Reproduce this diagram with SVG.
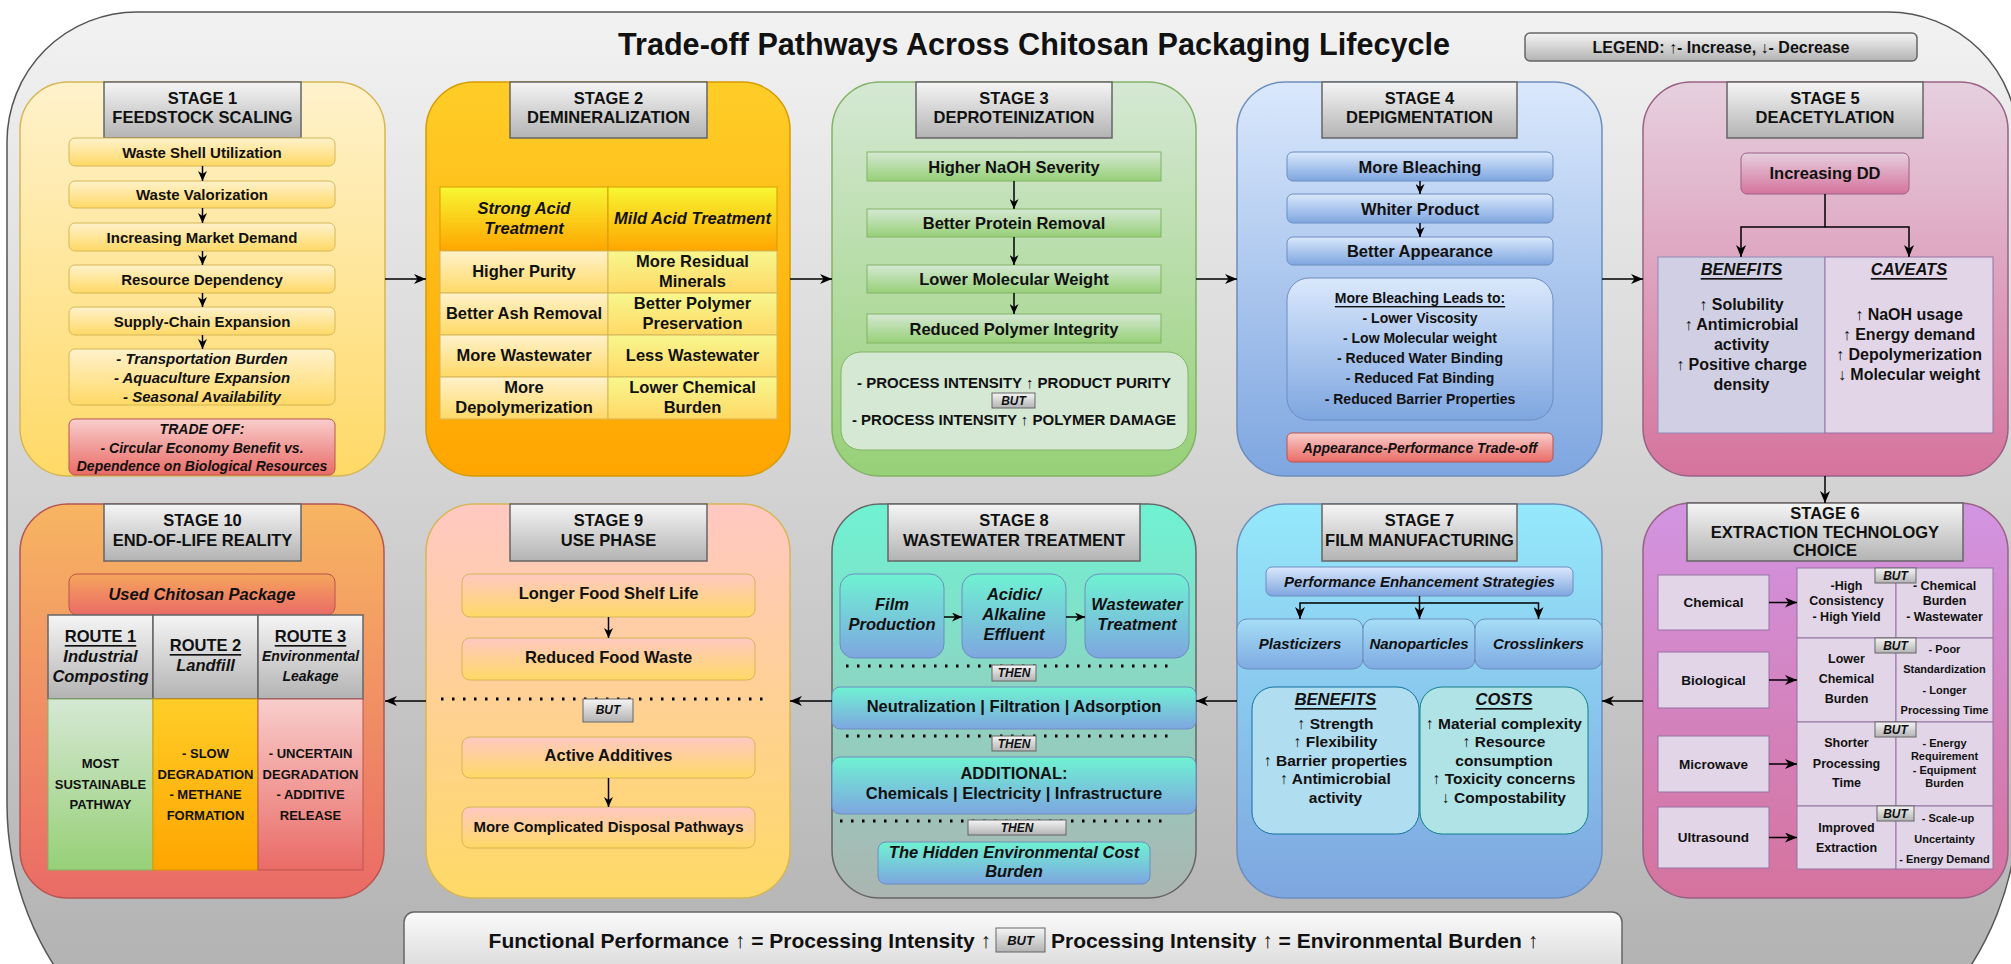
<svg xmlns="http://www.w3.org/2000/svg" width="2011" height="964" viewBox="0 0 2011 964">
<defs>
<linearGradient id="gOuter" x1="0" y1="12" x2="0" y2="964" gradientUnits="userSpaceOnUse"><stop offset="0" stop-color="#f2f2f2"/><stop offset="1" stop-color="#b3b3b3"/></linearGradient>
<linearGradient id="gY" x1="0" y1="0" x2="0" y2="1"><stop offset="0" stop-color="#fff2cc"/><stop offset="1" stop-color="#ffd966"/></linearGradient>
<linearGradient id="gO" x1="0" y1="0" x2="0" y2="1"><stop offset="0" stop-color="#ffcd28"/><stop offset="1" stop-color="#ffa500"/></linearGradient>
<linearGradient id="gG" x1="0" y1="0" x2="0" y2="1"><stop offset="0" stop-color="#d5e8d4"/><stop offset="1" stop-color="#97d077"/></linearGradient>
<linearGradient id="gB" x1="0" y1="0" x2="0" y2="1"><stop offset="0" stop-color="#dae8fc"/><stop offset="1" stop-color="#7ea6e0"/></linearGradient>
<linearGradient id="gB7" x1="0" y1="0" x2="0" y2="1"><stop offset="0" stop-color="#a6def6"/><stop offset="1" stop-color="#7eaae2"/></linearGradient>
<linearGradient id="gP5" x1="0" y1="0" x2="0" y2="1"><stop offset="0" stop-color="#e6d0de"/><stop offset="1" stop-color="#d5739d"/></linearGradient>
<linearGradient id="gP6" x1="0" y1="0" x2="0" y2="1"><stop offset="0" stop-color="#d294e2"/><stop offset="1" stop-color="#d5739d"/></linearGradient>
<linearGradient id="gC7" x1="0" y1="0" x2="0" y2="1"><stop offset="0" stop-color="#95e9fb"/><stop offset="1" stop-color="#7ea6e0"/></linearGradient>
<linearGradient id="gT8" x1="0" y1="0" x2="0" y2="1"><stop offset="0" stop-color="#6ff2d2"/><stop offset="1" stop-color="#abb5b1"/></linearGradient>
<linearGradient id="gTB" x1="0" y1="0" x2="0" y2="1"><stop offset="0" stop-color="#6ff2d2"/><stop offset="1" stop-color="#7ea6e0"/></linearGradient>
<linearGradient id="gPk" x1="0" y1="0" x2="0" y2="1"><stop offset="0" stop-color="#ffc8c2"/><stop offset="1" stop-color="#ffd966"/></linearGradient>
<linearGradient id="gR10" x1="0" y1="0" x2="0" y2="1"><stop offset="0" stop-color="#f7b562"/><stop offset="1" stop-color="#ea6b66"/></linearGradient>
<linearGradient id="gUsed" x1="0" y1="0" x2="0" y2="1"><stop offset="0" stop-color="#f5a55c"/><stop offset="1" stop-color="#ea6b66"/></linearGradient>
<linearGradient id="gRed" x1="0" y1="0" x2="0" y2="1"><stop offset="0" stop-color="#f8cecc"/><stop offset="1" stop-color="#ea6b66"/></linearGradient>
<linearGradient id="gGray" x1="0" y1="0" x2="0" y2="1"><stop offset="0" stop-color="#f5f5f5"/><stop offset="1" stop-color="#b3b3b3"/></linearGradient>
<linearGradient id="gHdrY" x1="0" y1="0" x2="0" y2="1"><stop offset="0" stop-color="#f7f733"/><stop offset="1" stop-color="#ffa500"/></linearGradient>
<linearGradient id="gLime" x1="0" y1="0" x2="0" y2="1"><stop offset="0" stop-color="#f7f78e"/><stop offset="1" stop-color="#ffd966"/></linearGradient>
<linearGradient id="gBar" x1="0" y1="0" x2="0" y2="1"><stop offset="0" stop-color="#fafafa"/><stop offset="1" stop-color="#cfcfcf"/></linearGradient>
<marker id="ah" viewBox="0 0 12 10" refX="12" refY="5" markerWidth="12" markerHeight="10" markerUnits="userSpaceOnUse" orient="auto"><path d="M0,0 L12,5 L0,10 L3.5,5 Z" fill="#000"/></marker>
<marker id="ahs" viewBox="0 0 10 9" refX="10" refY="4.5" markerWidth="10" markerHeight="9" markerUnits="userSpaceOnUse" orient="auto"><path d="M0,0 L10,4.5 L0,9 L3,4.5 Z" fill="#000"/></marker>
</defs>
<style>
.t{font-family:"Liberation Sans",Arial,Helvetica,sans-serif;font-weight:bold;text-anchor:middle;dominant-baseline:central;fill:#111}
.i{font-style:italic}
.u{text-decoration:underline}
.f11{font-size:11px}.f12{font-size:12px}.f125{font-size:12.5px}.f13{font-size:13px}.f135{font-size:13.5px}.f14{font-size:14px}.f15{font-size:15px}.f155{font-size:15.5px}.f16{font-size:16px}.f165{font-size:16.5px}.f21{font-size:21px}
.hdr{fill:url(#gGray);stroke:#666;stroke-width:1.5}
.tag{fill:url(#gGray);stroke:#666;stroke-width:1}
.dot{stroke:#000;stroke-width:3;stroke-dasharray:2.5 8.5;fill:none}
.cn{stroke:#000;stroke-width:1.5;fill:none;marker-end:url(#ah)}
.cs{stroke:#000;stroke-width:1.5;fill:none;marker-end:url(#ahs)}
</style>

<g id="background">
<path d="M7,142 A130,130 0 0 1 137,12 L1888,12 A130,130 0 0 1 2018,142 L2018,804 A300,300 0 0 1 1718,1104 L307,1104 A300,300 0 0 1 7,804 Z" fill="url(#gOuter)" stroke="#555" stroke-width="1.5"/>
</g>

<g id="title">
<text class="t" x="1034" y="55" style="font-size:30.6px;dominant-baseline:auto">Trade-off Pathways Across Chitosan Packaging Lifecycle</text>
</g>
<g id="legend">
<rect x="1525" y="33" width="392" height="28" rx="5" class="hdr" stroke-width="1"/>
<text class="t f16" x="1721" y="47">LEGEND: ↑- Increase, ↓- Decrease</text>
</g>

<g id="stage1">
<rect x="20" y="82" width="365" height="394" rx="48" fill="url(#gY)" stroke="#d6b656" stroke-width="1.5"/>
<rect x="104" y="82" width="197" height="56" class="hdr"/>
<text class="t f165" x="202.5" y="98">STAGE 1</text>
<text class="t f165" x="202.5" y="117">FEEDSTOCK SCALING</text>
<g fill="url(#gY)" stroke="#d6b656" stroke-width="1">
<rect x="69" y="138" width="266" height="28" rx="6"/>
<rect x="69" y="181" width="266" height="27" rx="6"/>
<rect x="69" y="223" width="266" height="28" rx="6"/>
<rect x="69" y="265" width="266" height="28" rx="6"/>
<rect x="69" y="307" width="266" height="28" rx="6"/>
<rect x="69" y="349" width="266" height="56" rx="6"/>
</g>
<text class="t f15" x="202" y="152">Waste Shell Utilization</text>
<text class="t f15" x="202" y="194.5">Waste Valorization</text>
<text class="t f15" x="202" y="237">Increasing Market Demand</text>
<text class="t f15" x="202" y="279">Resource Dependency</text>
<text class="t f15" x="202" y="321">Supply-Chain Expansion</text>
<text class="t f15 i" x="202" y="358">- Transportation Burden</text>
<text class="t f15 i" x="202" y="377">- Aquaculture Expansion</text>
<text class="t f15 i" x="202" y="396">- Seasonal Availability</text>
<rect x="69" y="419" width="266" height="56" rx="6" fill="url(#gRed)" stroke="#b85450" stroke-width="1"/>
<text class="t f14 i" x="202" y="429">TRADE OFF:</text>
<text class="t f14 i" x="202" y="447.5">- Circular Economy Benefit vs.</text>
<text class="t f14 i" x="202" y="466">Dependence on Biological Resources</text>
</g>

<g id="stage2">
<rect x="426" y="82" width="364" height="394" rx="48" fill="url(#gO)" stroke="#d79b00" stroke-width="1.5"/>
<rect x="510" y="82" width="197" height="56" class="hdr"/>
<text class="t f165" x="608.5" y="98">STAGE 2</text>
<text class="t f165" x="608.5" y="117">DEMINERALIZATION</text>
<g stroke="#d79b00" stroke-width="1" fill="url(#gHdrY)">
<rect x="440" y="187" width="168" height="64"/>
<rect x="608" y="187" width="169" height="64"/>
</g>
<g stroke="#d6b656" stroke-width="1" fill="url(#gY)">
<rect x="440" y="251" width="168" height="42"/>
<rect x="440" y="293" width="168" height="42"/>
<rect x="440" y="335" width="168" height="42"/>
<rect x="440" y="377" width="168" height="42"/>
</g>
<g stroke="#d6b656" stroke-width="1" fill="url(#gLime)">
<rect x="608" y="251" width="169" height="42"/>
<rect x="608" y="293" width="169" height="42"/>
<rect x="608" y="335" width="169" height="42"/>
<rect x="608" y="377" width="169" height="42"/>
</g>
<text class="t f165 i" x="524" y="208">Strong Acid</text>
<text class="t f165 i" x="524" y="228">Treatment</text>
<text class="t f165 i" x="692.5" y="218">Mild Acid Treatment</text>
<text class="t f165" x="524" y="271">Higher Purity</text>
<text class="t f165" x="692.5" y="261">More Residual</text>
<text class="t f165" x="692.5" y="281">Minerals</text>
<text class="t f165" x="524" y="313">Better Ash Removal</text>
<text class="t f165" x="692.5" y="303">Better Polymer</text>
<text class="t f165" x="692.5" y="323">Preservation</text>
<text class="t f165" x="524" y="355">More Wastewater</text>
<text class="t f165" x="692.5" y="355">Less Wastewater</text>
<text class="t f165" x="524" y="387">More</text>
<text class="t f165" x="524" y="407">Depolymerization</text>
<text class="t f165" x="692.5" y="387">Lower Chemical</text>
<text class="t f165" x="692.5" y="407">Burden</text>
</g>

<g id="stage3">
<rect x="832" y="82" width="364" height="394" rx="48" fill="url(#gG)" stroke="#82b366" stroke-width="1.5"/>
<rect x="916" y="82" width="196" height="56" class="hdr"/>
<text class="t f165" x="1014" y="98">STAGE 3</text>
<text class="t f165" x="1014" y="117">DEPROTEINIZATION</text>
<g fill="url(#gG)" stroke="#82b366" stroke-width="1">
<rect x="867" y="152" width="294" height="29"/>
<rect x="867" y="209" width="294" height="28"/>
<rect x="867" y="265" width="294" height="28"/>
<rect x="867" y="314" width="294" height="29"/>
</g>
<text class="t f165" x="1014" y="166.5">Higher NaOH Severity</text>
<text class="t f165" x="1014" y="223">Better Protein Removal</text>
<text class="t f165" x="1014" y="279">Lower Molecular Weight</text>
<text class="t f165" x="1014" y="328.5">Reduced Polymer Integrity</text>
<rect x="841" y="352" width="347" height="98" rx="20" fill="#d5e8d4" stroke="#82b366" stroke-width="1"/>
<text class="t f15" x="1014" y="382">- PROCESS INTENSITY ↑ PRODUCT PURITY</text>
<rect x="992" y="393" width="43" height="15" class="tag"/>
<text class="t f12 i" x="1013.5" y="400.5">BUT</text>
<text class="t f15" x="1014" y="419">- PROCESS INTENSITY ↑ POLYMER DAMAGE</text>
</g>

<g id="stage4">
<rect x="1237" y="82" width="365" height="394" rx="48" fill="url(#gB)" stroke="#6c8ebf" stroke-width="1.5"/>
<rect x="1322" y="82" width="195" height="56" class="hdr"/>
<text class="t f165" x="1419.5" y="98">STAGE 4</text>
<text class="t f165" x="1419.5" y="117">DEPIGMENTATION</text>
<g fill="url(#gB)" stroke="#6c8ebf" stroke-width="1">
<rect x="1287" y="152" width="266" height="29" rx="6"/>
<rect x="1287" y="194" width="266" height="29" rx="6"/>
<rect x="1287" y="237" width="266" height="28" rx="6"/>
<rect x="1287" y="278" width="266" height="142" rx="22"/>
</g>
<text class="t f165" x="1420" y="166.5">More Bleaching</text>
<text class="t f165" x="1420" y="208.5">Whiter Product</text>
<text class="t f165" x="1420" y="251">Better Appearance</text>
<text class="t f14 u" x="1420" y="298">More Bleaching Leads to:</text>
<text class="t f14" x="1420" y="318">- Lower Viscosity</text>
<text class="t f14" x="1420" y="338">- Low Molecular weight</text>
<text class="t f14" x="1420" y="358">- Reduced Water Binding</text>
<text class="t f14" x="1420" y="378">- Reduced Fat Binding</text>
<text class="t f14" x="1420" y="399">- Reduced Barrier Properties</text>
<rect x="1287" y="433" width="266" height="29" rx="5" fill="url(#gRed)" stroke="#b85450" stroke-width="1"/>
<text class="t f14 i" x="1420" y="447.5">Appearance-Performance Trade-off</text>
</g>

<g id="stage5">
<rect x="1643" y="82" width="365" height="394" rx="48" fill="url(#gP5)" stroke="#996185" stroke-width="1.5"/>
<rect x="1727" y="82" width="196" height="56" class="hdr"/>
<text class="t f165" x="1825" y="98">STAGE 5</text>
<text class="t f165" x="1825" y="117">DEACETYLATION</text>
<rect x="1741" y="153" width="168" height="41" rx="6" fill="url(#gP5)" stroke="#996185" stroke-width="1"/>
<text class="t f165" x="1825" y="173">Increasing DD</text>
<rect x="1658" y="257" width="167" height="176" fill="#d0cfe3" stroke="#8d8bb5" stroke-width="1"/>
<rect x="1825" y="257" width="168" height="176" fill="#e1d5e7" stroke="#9673a6" stroke-width="1"/>
<text class="t f165 i u" x="1741.5" y="269">BENEFITS</text>
<text class="t f16" x="1741.5" y="304">↑ Solubility</text>
<text class="t f16" x="1741.5" y="324">↑ Antimicrobial</text>
<text class="t f16" x="1741.5" y="344">activity</text>
<text class="t f16" x="1741.5" y="364">↑ Positive charge</text>
<text class="t f16" x="1741.5" y="384">density</text>
<text class="t f165 i u" x="1909" y="269">CAVEATS</text>
<text class="t f16" x="1909" y="314">↑ NaOH usage</text>
<text class="t f16" x="1909" y="334">↑ Energy demand</text>
<text class="t f16" x="1909" y="354">↑ Depolymerization</text>
<text class="t f16" x="1909" y="374">↓ Molecular weight</text>
</g>

<g id="stage6">
<rect x="1643" y="503" width="365" height="395" rx="48" fill="url(#gP6)" stroke="#996185" stroke-width="1.5"/>
<rect x="1687" y="503" width="276" height="58" class="hdr"/>
<text class="t f165" x="1825" y="513">STAGE 6</text>
<text class="t f165" x="1825" y="531.5">EXTRACTION TECHNOLOGY</text>
<text class="t f165" x="1825" y="550">CHOICE</text>
<g fill="#e1d5e7" stroke="#9673a6" stroke-width="1">
<rect x="1658" y="575" width="111" height="55"/>
<rect x="1658" y="652" width="111" height="56"/>
<rect x="1658" y="736" width="111" height="56"/>
<rect x="1658" y="807" width="111" height="61"/>
<rect x="1797" y="568" width="99" height="70"/>
<rect x="1896" y="568" width="97" height="70"/>
<rect x="1797" y="638" width="99" height="84"/>
<rect x="1896" y="638" width="97" height="84"/>
<rect x="1797" y="722" width="99" height="84"/>
<rect x="1896" y="722" width="97" height="84"/>
<rect x="1797" y="806" width="99" height="63"/>
<rect x="1896" y="806" width="97" height="63"/>
</g>
<text class="t f135" x="1713.5" y="602.5">Chemical</text>
<text class="t f135" x="1713.5" y="680">Biological</text>
<text class="t f135" x="1713.5" y="764">Microwave</text>
<text class="t f135" x="1713.5" y="837.5">Ultrasound</text>
<rect x="1875" y="568" width="41" height="15" class="tag"/>
<text class="t f12 i" x="1895.5" y="575.5">BUT</text>
<rect x="1875" y="638" width="41" height="15" class="tag"/>
<text class="t f12 i" x="1895.5" y="645.5">BUT</text>
<rect x="1875" y="722" width="41" height="15" class="tag"/>
<text class="t f12 i" x="1895.5" y="729.5">BUT</text>
<rect x="1877" y="806" width="37" height="15" class="tag"/>
<text class="t f12 i" x="1895.5" y="813.5">BUT</text>
<text class="t f125" x="1846.5" y="586">-High</text>
<text class="t f125" x="1846.5" y="601">Consistency</text>
<text class="t f125" x="1846.5" y="617">- High Yield</text>
<text class="t f125" x="1944.5" y="586">- Chemical</text>
<text class="t f125" x="1944.5" y="601">Burden</text>
<text class="t f125" x="1944.5" y="617">- Wastewater</text>
<text class="t f125" x="1846.5" y="659">Lower</text>
<text class="t f125" x="1846.5" y="679">Chemical</text>
<text class="t f125" x="1846.5" y="699">Burden</text>
<text class="t f11" x="1944.5" y="649">- Poor</text>
<text class="t f11" x="1944.5" y="669">Standardization</text>
<text class="t f11" x="1944.5" y="690">- Longer</text>
<text class="t f11" x="1944.5" y="710">Processing Time</text>
<text class="t f125" x="1846.5" y="743">Shorter</text>
<text class="t f125" x="1846.5" y="764">Processing</text>
<text class="t f125" x="1846.5" y="783">Time</text>
<text class="t f11" x="1944.5" y="743">- Energy</text>
<text class="t f11" x="1944.5" y="756">Requirement</text>
<text class="t f11" x="1944.5" y="769.5">- Equipment</text>
<text class="t f11" x="1944.5" y="783">Burden</text>
<text class="t f125" x="1846.5" y="828">Improved</text>
<text class="t f125" x="1846.5" y="848">Extraction</text>
<text class="t f11" x="1948" y="818">- Scale-up</text>
<text class="t f11" x="1944.5" y="839">Uncertainty</text>
<text class="t f11" x="1944.5" y="859">- Energy Demand</text>
</g>

<g id="stage7">
<rect x="1237" y="504" width="365" height="394" rx="48" fill="url(#gC7)" stroke="#6c8ebf" stroke-width="1.5"/>
<rect x="1322" y="504" width="195" height="57" class="hdr"/>
<text class="t f165" x="1419.5" y="520">STAGE 7</text>
<text class="t f165" x="1419.5" y="540">FILM MANUFACTURING</text>
<rect x="1266" y="567" width="307" height="29" rx="6" fill="url(#gB)" stroke="#6c8ebf" stroke-width="1"/>
<text class="t f15 i" x="1419.5" y="581.5">Performance Enhancement Strategies</text>
<g fill="url(#gB7)" stroke="#6c8ebf" stroke-width="1">
<rect x="1237" y="619" width="126" height="50" rx="10"/>
<rect x="1363" y="619" width="112" height="50" rx="10"/>
<rect x="1475" y="619" width="127" height="50" rx="10"/>
</g>
<text class="t f15 i" x="1300" y="643">Plasticizers</text>
<text class="t f15 i" x="1419" y="643">Nanoparticles</text>
<text class="t f15 i" x="1538.5" y="643">Crosslinkers</text>
<rect x="1252" y="687" width="167" height="147" rx="22" fill="#b1ddf0" stroke="#10739e" stroke-width="1"/>
<rect x="1420" y="687" width="168" height="147" rx="22" fill="#b0e3e6" stroke="#0e8088" stroke-width="1"/>
<text class="t f165 i u" x="1335.5" y="699">BENEFITS</text>
<text class="t f155" x="1335.5" y="723">↑ Strength</text>
<text class="t f155" x="1335.5" y="741.5">↑ Flexibility</text>
<text class="t f155" x="1335.5" y="760">↑ Barrier properties</text>
<text class="t f155" x="1335.5" y="778.5">↑ Antimicrobial</text>
<text class="t f155" x="1335.5" y="797">activity</text>
<text class="t f165 i u" x="1504" y="699">COSTS</text>
<text class="t f155" x="1504" y="723">↑ Material complexity</text>
<text class="t f155" x="1504" y="741.5">↑ Resource</text>
<text class="t f155" x="1504" y="760">consumption</text>
<text class="t f155" x="1504" y="778.5">↑ Toxicity concerns</text>
<text class="t f155" x="1504" y="797">↓ Compostability</text>
</g>

<g id="stage8">
<rect x="832" y="504" width="364" height="394" rx="48" fill="url(#gT8)" stroke="#666" stroke-width="1.5"/>
<rect x="888" y="504" width="252" height="57" class="hdr"/>
<text class="t f165" x="1014" y="520">STAGE 8</text>
<text class="t f165" x="1014" y="540">WASTEWATER TREATMENT</text>
<g fill="url(#gTB)" stroke="#6c8ebf" stroke-width="1">
<rect x="840" y="574" width="104" height="84" rx="14"/>
<rect x="962" y="574" width="104" height="84" rx="14"/>
<rect x="1085" y="574" width="104" height="84" rx="14"/>
</g>
<text class="t f165 i" x="892" y="604">Film</text>
<text class="t f165 i" x="892" y="624">Production</text>
<text class="t f165 i" x="1014" y="594">Acidic/</text>
<text class="t f165 i" x="1014" y="614">Alkaline</text>
<text class="t f165 i" x="1014" y="634">Effluent</text>
<text class="t f165 i" x="1137" y="604">Wastewater</text>
<text class="t f165 i" x="1137" y="624">Treatment</text>
<line x1="846" y1="666" x2="1176" y2="666" class="dot"/>
<rect x="992" y="665" width="44" height="16" class="tag"/>
<text class="t f12 i" x="1014" y="673">THEN</text>
<rect x="832" y="687" width="364" height="42" rx="8" fill="url(#gTB)" stroke="#6c8ebf" stroke-width="1"/>
<text class="t f165" x="1014" y="706">Neutralization | Filtration | Adsorption</text>
<line x1="846" y1="736" x2="1176" y2="736" class="dot"/>
<rect x="992" y="736" width="44" height="15" class="tag"/>
<text class="t f12 i" x="1014" y="743.5">THEN</text>
<rect x="832" y="757" width="364" height="57" rx="8" fill="url(#gTB)" stroke="#6c8ebf" stroke-width="1"/>
<text class="t f165" x="1014" y="773">ADDITIONAL:</text>
<text class="t f165" x="1014" y="793">Chemicals | Electricity | Infrastructure</text>
<line x1="840" y1="821" x2="1170" y2="821" class="dot"/>
<rect x="968" y="820" width="98" height="15" class="tag"/>
<text class="t f12 i" x="1017" y="827.5">THEN</text>
<rect x="878" y="842" width="272" height="42" rx="8" fill="url(#gTB)" stroke="#6c8ebf" stroke-width="1"/>
<text class="t f165 i" x="1014" y="851.5">The Hidden Environmental Cost</text>
<text class="t f165 i" x="1014" y="870.5">Burden</text>
</g>

<g id="stage9">
<rect x="426" y="504" width="364" height="394" rx="48" fill="url(#gPk)" stroke="#d6b656" stroke-width="1.5"/>
<rect x="510" y="504" width="197" height="57" class="hdr"/>
<text class="t f165" x="608.5" y="520">STAGE 9</text>
<text class="t f165" x="608.5" y="540">USE PHASE</text>
<g fill="url(#gPk)" stroke="#d6b656" stroke-width="1">
<rect x="462" y="574" width="293" height="43" rx="8"/>
<rect x="462" y="638" width="293" height="42" rx="8"/>
<rect x="462" y="737" width="293" height="41" rx="8"/>
<rect x="462" y="807" width="293" height="41" rx="8"/>
</g>
<text class="t f165" x="608.5" y="593">Longer Food Shelf Life</text>
<text class="t f165" x="608.5" y="657">Reduced Food Waste</text>
<line x1="441" y1="699" x2="770" y2="699" class="dot"/>
<rect x="583" y="699" width="50" height="23" class="tag"/>
<text class="t f12 i" x="608" y="709.5">BUT</text>
<text class="t f165" x="608.5" y="755">Active Additives</text>
<text class="t f15" x="608.5" y="826">More Complicated Disposal Pathways</text>
</g>

<g id="stage10">
<rect x="20" y="504" width="364" height="394" rx="48" fill="url(#gR10)" stroke="#b85450" stroke-width="1.5"/>
<rect x="104" y="504" width="197" height="57" class="hdr"/>
<text class="t f165" x="202.5" y="520">STAGE 10</text>
<text class="t f165" x="202.5" y="540">END-OF-LIFE REALITY</text>
<rect x="69" y="574" width="266" height="41" rx="8" fill="url(#gUsed)" stroke="#b85450" stroke-width="1"/>
<text class="t f165 i" x="202" y="593.5">Used Chitosan Package</text>
<g class="hdr" stroke-width="1">
<rect x="48" y="615" width="105" height="84"/>
<rect x="153" y="615" width="105" height="84"/>
<rect x="258" y="615" width="105" height="84"/>
</g>
<rect x="48" y="699" width="105" height="171" fill="url(#gG)" stroke="#82b366" stroke-width="1"/>
<rect x="153" y="699" width="105" height="171" fill="url(#gO)" stroke="#d79b00" stroke-width="1"/>
<rect x="258" y="699" width="105" height="171" fill="url(#gRed)" stroke="#b85450" stroke-width="1"/>
<text class="t f165 u" x="100.5" y="636">ROUTE 1</text>
<text class="t f165 i" x="100.5" y="656">Industrial</text>
<text class="t f165 i" x="100.5" y="676">Composting</text>
<text class="t f165 u" x="205.5" y="645">ROUTE 2</text>
<text class="t f165 i" x="205.5" y="665">Landfill</text>
<text class="t f165 u" x="310.5" y="636">ROUTE 3</text>
<text class="t f14 i" x="310.5" y="656">Environmental</text>
<text class="t f14 i" x="310.5" y="676">Leakage</text>
<text class="t f13" x="100.5" y="763">MOST</text>
<text class="t f13" x="100.5" y="784">SUSTAINABLE</text>
<text class="t f13" x="100.5" y="804">PATHWAY</text>
<text class="t f13" x="205.5" y="753">- SLOW</text>
<text class="t f13" x="205.5" y="774">DEGRADATION</text>
<text class="t f13" x="205.5" y="794">- METHANE</text>
<text class="t f13" x="205.5" y="815">FORMATION</text>
<text class="t f13" x="310.5" y="753">- UNCERTAIN</text>
<text class="t f13" x="310.5" y="774">DEGRADATION</text>
<text class="t f13" x="310.5" y="794">- ADDITIVE</text>
<text class="t f13" x="310.5" y="815">RELEASE</text>
</g>

<g id="summary">
<rect x="404" y="912" width="1218" height="80" rx="10" fill="url(#gBar)" stroke="#666" stroke-width="1.5"/>
<text class="t f21" x="991" y="940" style="text-anchor:end">Functional Performance ↑ = Processing Intensity ↑</text>
<rect x="996" y="928" width="49" height="24" class="tag"/>
<text class="t f13 i" x="1020.5" y="940">BUT</text>
<text class="t f21" x="1051" y="940" style="text-anchor:start">Processing Intensity ↑ = Environmental Burden ↑</text>
</g>

<g id="connectors">
<line x1="385" y1="279" x2="426" y2="279" class="cn"/>
<line x1="790" y1="279" x2="832" y2="279" class="cn"/>
<line x1="1196" y1="279" x2="1237" y2="279" class="cn"/>
<line x1="1602" y1="279" x2="1643" y2="279" class="cn"/>
<line x1="1825" y1="476" x2="1825" y2="503" class="cn"/>
<line x1="1643" y1="701" x2="1602" y2="701" class="cn"/>
<line x1="1237" y1="701" x2="1196" y2="701" class="cn"/>
<line x1="832" y1="701" x2="790" y2="701" class="cn"/>
<line x1="426" y1="701" x2="385" y2="701" class="cn"/>
<line x1="202.5" y1="166" x2="202.5" y2="181" class="cs"/>
<line x1="202.5" y1="208" x2="202.5" y2="223" class="cs"/>
<line x1="202.5" y1="251" x2="202.5" y2="265" class="cs"/>
<line x1="202.5" y1="293" x2="202.5" y2="307" class="cs"/>
<line x1="202.5" y1="335" x2="202.5" y2="349" class="cs"/>
<line x1="1014" y1="181" x2="1014" y2="209" class="cs"/>
<line x1="1014" y1="237" x2="1014" y2="265" class="cs"/>
<line x1="1014" y1="293" x2="1014" y2="314" class="cs"/>
<line x1="1420" y1="181" x2="1420" y2="194" class="cs"/>
<line x1="1420" y1="223" x2="1420" y2="237" class="cs"/>
<path d="M1825,194 V227 H1741 V257" class="cn"/>
<path d="M1825,227 H1909 V257" class="cn"/>
<line x1="1769" y1="602.5" x2="1797" y2="602.5" class="cn"/>
<line x1="1769" y1="680" x2="1797" y2="680" class="cn"/>
<line x1="1769" y1="764" x2="1797" y2="764" class="cn"/>
<line x1="1769" y1="837.5" x2="1797" y2="837.5" class="cn"/>
<line x1="1419.5" y1="596" x2="1419.5" y2="619" class="cn"/>
<path d="M1419.5,603 H1300 V619" class="cn"/>
<path d="M1419.5,603 H1538.5 V619" class="cn"/>
<line x1="944" y1="617" x2="962" y2="617" class="cs"/>
<line x1="1066" y1="617" x2="1085" y2="617" class="cs"/>
<line x1="608.5" y1="617" x2="608.5" y2="638" class="cs"/>
<line x1="608.5" y1="778" x2="608.5" y2="807" class="cs"/>
</g>
</svg>
